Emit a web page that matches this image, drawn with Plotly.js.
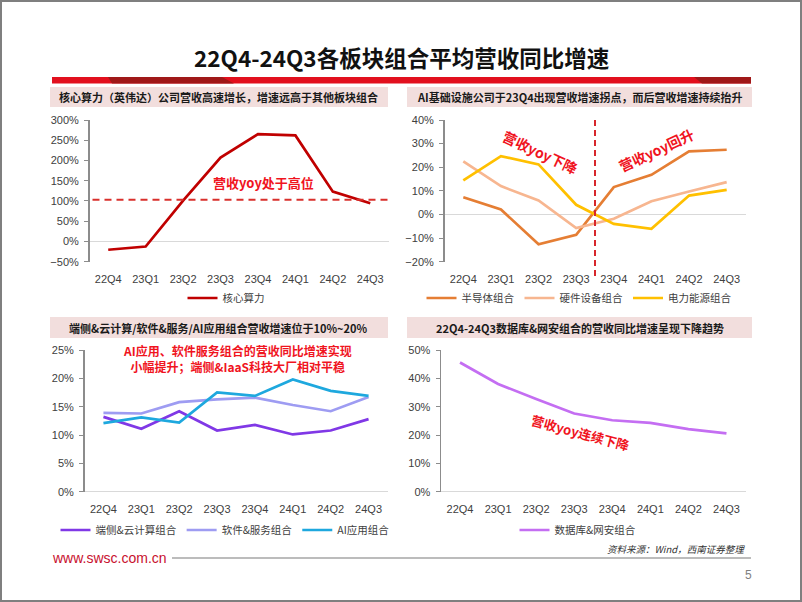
<!DOCTYPE html>
<html>
<head>
<meta charset="utf-8">
<script src="https://cdn.plot.ly/plotly-3.0.1.min.js"></script>
<style>
html,body{margin:0;padding:0;background:#fff;}
#chart{width:802px;height:602px;}
</style>
</head>
<body>
<div id="chart"></div>
<script>
// ---------- data ----------
const quarters = ['22Q4','23Q1','23Q2','23Q3','23Q4','24Q1','24Q2','24Q3'];

// panel 1: 核心算力 (%)
const coreCompute = [-20.5, -12.5, 101, 207, 265, 262, 123, 94.5];
const coreHighLevel = 103;

// panel 2: AI 基础设施 (%)
const semiconductor = [7.3, 2.1, -12.6, -8.6, 11.6, 16.8, 26.7, 27.4];
const hardware = [22.5, 12.0, 5.9, -5.8, -1.8, 5.6, 9.7, 13.7];
const powerEnergy = [14.4, 24.7, 21.2, 4.1, -4.0, -6.1, 8.0, 10.4];
const turningPoint = 3.5; // between 23Q3 and 23Q4

// panel 3: 端侧&云计算 / 软件&服务 / AI应用 (%)
const edgeCloud = [13.2, 11.1, 14.2, 10.8, 11.8, 10.1, 10.8, 12.8];
const softwareService = [13.9, 13.8, 15.8, 16.3, 16.6, 15.3, 14.2, 16.7];
const aiApplication = [12.1, 13.1, 12.2, 17.5, 16.9, 19.8, 17.8, 16.9];

// panel 4: 数据库&网安 (%)
const databaseSecurity = [45.6, 38.0, 32.7, 27.6, 25.2, 24.3, 22.1, 20.6];

// ---------- helpers ----------
const W = 802, H = 602;
const px = v => v / W;
const py = v => 1 - v / H;
const CJK = '"Noto Sans CJK SC", "Microsoft YaHei", sans-serif';
const NUM = '"Liberation Sans", Arial, sans-serif';
const tickFont = {family: NUM, size: 11, color: '#404040'};
const legendFont = {family: CJK, size: 10.5, color: '#404040'};

function xAxis(d0, d1, anchor) {
  return {
    domain: [px(d0), px(d1)], anchor: anchor, type: 'category',
    range: [-0.5, 7.5], showgrid: false, showline: false, zeroline: false,
    ticks: 'outside', ticklen: 7, tickcolor: 'rgba(0,0,0,0)',
    tickfont: tickFont, fixedrange: true
  };
}
function yAxis(top, bottom, anchor, r0, r1, dt) {
  return {
    domain: [py(bottom), py(top)], anchor: anchor,
    range: [r0, r1], tickmode: 'linear', tick0: r0, dtick: dt, ticksuffix: '%',
    showgrid: false, showline: true, linecolor: '#8C8C8C', linewidth: 1.5,
    ticks: 'outside', ticklen: 4, tickcolor: '#8C8C8C', tickwidth: 1,
    zeroline: true, zerolinecolor: '#D9D9D9', zerolinewidth: 1,
    tickfont: tickFont, ticklabelstandoff: 3, fixedrange: true
  };
}
function line(y, name, color, xa, ya, lg) {
  return {x: quarters, y: y, name: name, type: 'scatter', mode: 'lines',
    line: {color: color, width: 2.7}, xaxis: xa, yaxis: ya, legend: lg,
    hoverinfo: 'skip'};
}

const traces = [
  line(coreCompute, '核心算力', '#C00000', 'x', 'y', 'legend'),
  line(semiconductor, '半导体组合', '#E57E34', 'x2', 'y2', 'legend2'),
  line(hardware, '硬件设备组合', '#F7B690', 'x2', 'y2', 'legend2'),
  line(powerEnergy, '电力能源组合', '#FFC000', 'x2', 'y2', 'legend2'),
  line(edgeCloud, '端侧&云计算组合', '#8038E6', 'x3', 'y3', 'legend3'),
  line(softwareService, '软件&服务组合', '#9E9CF2', 'x3', 'y3', 'legend3'),
  line(aiApplication, 'AI应用组合', '#1EA8DE', 'x3', 'y3', 'legend3'),
  line(databaseSecurity, '数据库&网安组合', '#C46EF2', 'x4', 'y4', 'legend4')
];

function legendAt(x, y) {
  return {orientation: 'h', x: px(x), y: py(y), xanchor: 'center', yanchor: 'middle',
    font: legendFont, bgcolor: 'rgba(0,0,0,0)', itemwidth: 30, tracegroupgap: 0};
}

const shapes = [];
const annotations = [];

// page border
shapes.push({type: 'rect', xref: 'paper', yref: 'paper', x0: px(1), x1: px(801), y0: py(601), y1: py(1),
  line: {color: '#7F7F7F', width: 2}, layer: 'below'});

// red bar under title
shapes.push({type: 'rect', xref: 'paper', yref: 'paper', x0: px(52), x1: px(751), y0: py(83.5), y1: py(77),
  fillcolor: '#E2101E', line: {width: 0}, layer: 'below'});
shapes.push({type: 'path', xref: 'paper', yref: 'paper',
  path: `M ${px(108)} ${py(77)} L ${px(222)} ${py(77)} L ${px(234)} ${py(83.5)} L ${px(112)} ${py(83.5)} Z`,
  fillcolor: '#A01818', line: {width: 0}, layer: 'below'});
shapes.push({type: 'path', xref: 'paper', yref: 'paper',
  path: `M ${px(694)} ${py(77)} L ${px(751)} ${py(77)} L ${px(751)} ${py(83.5)} L ${px(702)} ${py(83.5)} Z`,
  fillcolor: '#A01818', line: {width: 0}, layer: 'below'});

// header boxes
const headers = [
  {x0: 50, x1: 388, y0: 87, y1: 107, text: '核心算力（英伟达）公司营收高速增长，增速远高于其他板块组合'},
  {x0: 407, x1: 752, y0: 87, y1: 107, text: 'AI基础设施公司于23Q4出现营收增速拐点，而后营收增速持续抬升'},
  {x0: 50, x1: 388, y0: 317, y1: 338, text: '端侧&云计算/软件&服务/AI应用组合营收增速位于10%~20%'},
  {x0: 407, x1: 752, y0: 317, y1: 338, text: '22Q4-24Q3数据库&网安组合的营收同比增速呈现下降趋势'}
];
headers.forEach(h => {
  shapes.push({type: 'rect', xref: 'paper', yref: 'paper', x0: px(h.x0), x1: px(h.x1), y0: py(h.y1), y1: py(h.y0),
    fillcolor: '#F2DEDD', line: {width: 0}, layer: 'below'});
  annotations.push({xref: 'paper', yref: 'paper', x: px((h.x0 + h.x1) / 2), y: py((h.y0 + h.y1) / 2),
    xanchor: 'center', yanchor: 'middle', showarrow: false, text: '<b>' + h.text + '</b>',
    font: {family: CJK, size: 11, color: '#1A1A1A'}});
});

// main title
annotations.push({xref: 'paper', yref: 'paper', x: px(401), y: py(57), xanchor: 'center', yanchor: 'middle',
  showarrow: false, text: '<b>22Q4-24Q3各板块组合平均营收同比增速</b>',
  font: {family: CJK, size: 22.5, color: '#111111'}});

// panel 1 dashed reference
shapes.push({type: 'line', xref: 'x domain', yref: 'y', x0: 0.01, x1: 1, y0: coreHighLevel, y1: coreHighLevel,
  line: {color: '#D9302C', width: 2, dash: '7px,5px'}});
annotations.push({xref: 'paper', yref: 'paper', x: px(263), y: py(183), xanchor: 'center', yanchor: 'middle',
  showarrow: false, text: '<b>营收yoy处于高位</b>', font: {family: CJK, size: 13, color: '#F0141E'}});

// panel 2 vertical dashed line and notes
shapes.push({type: 'line', xref: 'x2', yref: 'paper', x0: turningPoint, x1: turningPoint, y0: py(120), y1: py(280),
  line: {color: '#D7262B', width: 2, dash: '6px,4px'}});
annotations.push({xref: 'paper', yref: 'paper', x: px(540), y: py(152), xanchor: 'center', yanchor: 'middle',
  showarrow: false, textangle: 25, text: '<b>营收yoy下降</b>', font: {family: CJK, size: 14, color: '#F0141E'}});
annotations.push({xref: 'paper', yref: 'paper', x: px(656), y: py(150), xanchor: 'center', yanchor: 'middle',
  showarrow: false, textangle: -25, text: '<b>营收yoy回升</b>', font: {family: CJK, size: 14, color: '#F0141E'}});

// panel 3 note
annotations.push({xref: 'paper', yref: 'paper', x: px(237), y: py(358), xanchor: 'center', yanchor: 'middle',
  showarrow: false, align: 'center',
  text: '<b>AI应用、软件服务组合的营收同比增速实现<br>小幅提升；端侧&IaaS科技大厂相对平稳</b>',
  font: {family: CJK, size: 12, color: '#F0141E'}});

// panel 4 note
annotations.push({xref: 'paper', yref: 'paper', x: px(580), y: py(432), xanchor: 'center', yanchor: 'middle',
  showarrow: false, textangle: 15, text: '<b>营收yoy连续下降</b>', font: {family: CJK, size: 13, color: '#F0141E'}});

// footer
annotations.push({xref: 'paper', yref: 'paper', x: px(50), y: py(558), xanchor: 'left', yanchor: 'middle',
  showarrow: false, text: 'www.swsc.com.cn', font: {family: NUM, size: 14, color: '#C8102E'}});
shapes.push({type: 'line', xref: 'paper', yref: 'paper', x0: px(172), x1: px(751), y0: py(558), y1: py(558),
  line: {color: '#A6A6A6', width: 1.5}});
annotations.push({xref: 'paper', yref: 'paper', x: px(747), y: py(549), xanchor: 'right', yanchor: 'middle',
  showarrow: false, text: '<i>资料来源：Wind，西南证券整理</i>', font: {family: CJK, size: 9.5, color: '#333333'}});
annotations.push({xref: 'paper', yref: 'paper', x: px(754), y: py(575), xanchor: 'right', yanchor: 'middle',
  showarrow: false, text: '5', font: {family: NUM, size: 12, color: '#7F7F7F'}});

const layout = {
  width: W, height: H, margin: {l: 0, r: 0, t: 0, b: 0},
  paper_bgcolor: '#FFFFFF', plot_bgcolor: 'rgba(0,0,0,0)', showlegend: true,
  xaxis: xAxis(89.5, 389, 'y'),
  yaxis: yAxis(120, 261.7, 'x', -50, 300, 50),
  xaxis2: xAxis(444.5, 745.5, 'y2'),
  yaxis2: yAxis(120, 261.7, 'x2', -20, 40, 10),
  xaxis3: xAxis(84.5, 387.5, 'y3'),
  yaxis3: yAxis(350, 491.7, 'x3', 0, 25, 5),
  xaxis4: xAxis(441, 745.5, 'y4'),
  yaxis4: yAxis(350, 491.7, 'x4', 0, 50, 10),
  legend: legendAt(226, 298),
  legend2: legendAt(579, 298),
  legend3: legendAt(225, 530),
  legend4: legendAt(578, 530),
  shapes: shapes,
  annotations: annotations
};

Plotly.newPlot('chart', traces, layout, {displayModeBar: false, staticPlot: true});
</script>
</body>
</html>
